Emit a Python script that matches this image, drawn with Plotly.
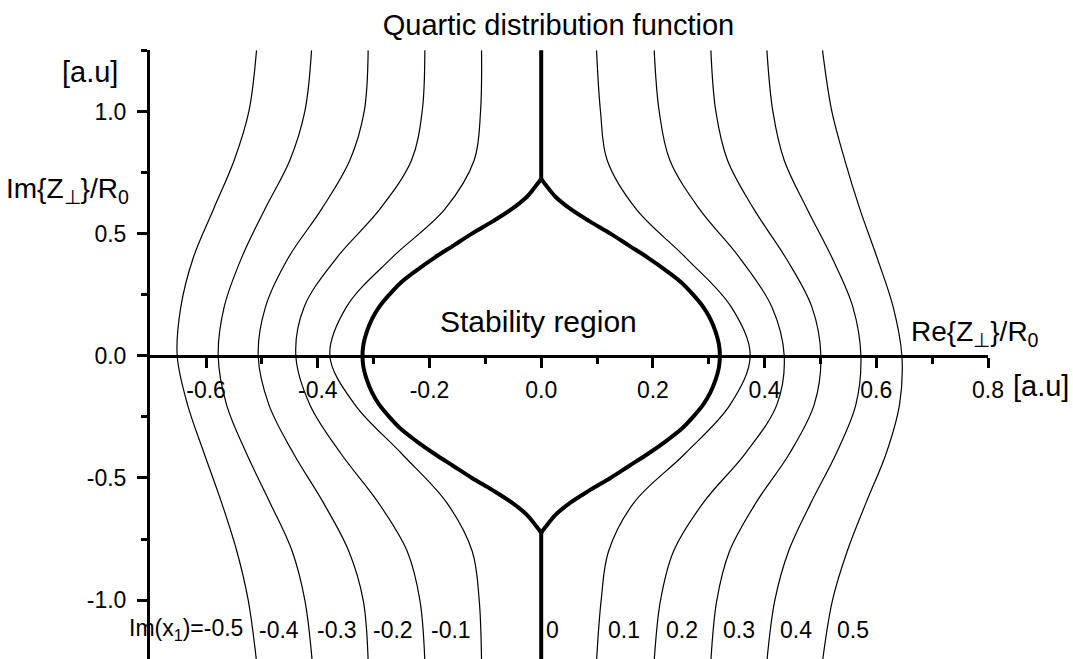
import plotly.graph_objects as go

# ---------------- data ----------------
# common y levels (Im{Z}/R0) at which each thin curve was read
y_levels = [1.25, 1.0, 0.8, 0.6, 0.4, 0.2, 0.0, -0.2, -0.4, -0.6, -0.8, -1.0, -1.25]

im_labels = ["-0.5", "-0.4", "-0.3", "-0.2", "-0.1", "0.1", "0.2", "0.3", "0.4", "0.5"]

x_m05 = [-0.5097, -0.5234, -0.5497, -0.5867, -0.6231, -0.6452, -0.6517, -0.6332, -0.6034, -0.5724, -0.5449, -0.5246, -0.5097]
x_m04 = [-0.4112, -0.4232, -0.4500, -0.4948, -0.5366, -0.5676, -0.5783, -0.5634, -0.5276, -0.4858, -0.4458, -0.4232, -0.4100]
x_m03 = [-0.3098, -0.3169, -0.3426, -0.3933, -0.4530, -0.4936, -0.5067, -0.4876, -0.4435, -0.3903, -0.3444, -0.3187, -0.3098]
x_m02 = [-0.2083, -0.2131, -0.2322, -0.2889, -0.3665, -0.4244, -0.4393, -0.4142, -0.3587, -0.2919, -0.2399, -0.2172, -0.2083]
x_m01 = [-0.1068, -0.1086, -0.1200, -0.1725, -0.2680, -0.3486, -0.3784, -0.3336, -0.2501, -0.1695, -0.1235, -0.1110, -0.1068]
x_p01 = [0.0991, 0.1062, 0.1182, 0.1701, 0.2596, 0.3402, 0.3742, 0.3384, 0.2578, 0.1665, 0.1206, 0.1074, 0.0991]
x_p02 = [0.2023, 0.2113, 0.2304, 0.2835, 0.3557, 0.4130, 0.4351, 0.4220, 0.3653, 0.2907, 0.2370, 0.2137, 0.2023]
x_p03 = [0.3038, 0.3127, 0.3336, 0.3808, 0.4381, 0.4846, 0.5008, 0.4888, 0.4446, 0.3850, 0.3372, 0.3145, 0.3038]
x_p04 = [0.4041, 0.4148, 0.4351, 0.4763, 0.5210, 0.5580, 0.5724, 0.5634, 0.5282, 0.4834, 0.4429, 0.4184, 0.4041]
x_p05 = [0.5037, 0.5204, 0.5437, 0.5706, 0.6016, 0.6302, 0.6458, 0.6416, 0.6177, 0.5819, 0.5479, 0.5216, 0.5037]

thin_curves = [x_m05, x_m04, x_m03, x_m02, x_m01, x_p01, x_p02, x_p03, x_p04, x_p05]

# Im(x1) = 0 : stability boundary (lens)
lens_y = [0.726, 0.715, 0.70, 0.65, 0.60, 0.55, 0.50, 0.45, 0.40, 0.35, 0.30, 0.25, 0.20, 0.15, 0.10, 0.05, 0.0,
          -0.05, -0.10, -0.15, -0.20, -0.25, -0.30, -0.35, -0.40, -0.45, -0.50, -0.55, -0.60, -0.65, -0.70, -0.715, -0.726]
lens_x_right = [0.0, 0.003, 0.008, 0.026, 0.053, 0.087, 0.124, 0.158, 0.192, 0.223, 0.251, 0.272, 0.290, 0.303, 0.312, 0.318, 0.320,
                0.318, 0.312, 0.303, 0.290, 0.272, 0.251, 0.223, 0.192, 0.158, 0.124, 0.087, 0.053, 0.026, 0.008, 0.003, 0.0]
lens_x_left = [-v for v in lens_x_right]
stem_top_y = [1.25, 0.726]
stem_bottom_y = [-0.726, -1.25]
stem_x = [0.0, 0.0]

x_tickvals = [-0.6, -0.4, -0.2, 0.0, 0.2, 0.4, 0.6, 0.8]
x_ticktext = ["-0.6", "-0.4", "-0.2", "0.0", "0.2", "0.4", "0.6", "0.8"]
x_minorvals = [-0.5, -0.3, -0.1, 0.1, 0.3, 0.5, 0.7]
y_tickvals = [-1.0, -0.5, 0.0, 0.5, 1.0]
y_ticktext = ["-1.0", "-0.5", "0.0", "0.5", "1.0"]
y_minorvals = [-0.75, -0.25, 0.25, 0.75, 1.25]

# ---------------- figure ----------------
FONT = "Liberation Sans, Arial, Helvetica, sans-serif"
W, H = 1073, 659
ML, MR, MT, MB = 148, 85, 50, 0
xmin, xmax = -0.704, 0.8
ymin, ymax = -1.241, 1.2515


def px_to_paper(px, py):
    return (px - ML) / (W - ML - MR), (H - MB - py) / (H - MT - MB)


fig = go.Figure()
for xs in thin_curves:
    fig.add_trace(go.Scatter(x=xs, y=y_levels, mode="lines",
                             line=dict(color="black", width=1.2, shape="spline", smoothing=1.0),
                             hoverinfo="skip"))

for xs, ys in [(stem_x, stem_top_y), (stem_x, stem_bottom_y)]:
    fig.add_trace(go.Scatter(x=xs, y=ys, mode="lines",
                             line=dict(color="black", width=4), hoverinfo="skip"))
for xs in [lens_x_right, lens_x_left]:
    fig.add_trace(go.Scatter(x=xs, y=lens_y, mode="lines",
                             line=dict(color="black", width=4, shape="spline", smoothing=1.0),
                             hoverinfo="skip"))

# curve labels near the bottom
label_y = -1.122
annotations = []
for lab, xs in zip(im_labels, thin_curves):
    xa = xs[11] + (xs[12] - xs[11]) * (1.122 - 1.0) / 0.25
    neg = lab.startswith("-")
    text = ("Im(x<sub>1</sub>)=" + lab) if lab == "-0.5" else lab
    annotations.append(dict(x=xa, y=label_y, xref="x", yref="y", text=text, showarrow=False,
                            xanchor="right" if neg else "left", yanchor="middle",
                            xshift=-7 if neg else 7, font=dict(size=23)))
annotations.append(dict(x=0.0, y=label_y, xref="x", yref="y", text="0", showarrow=False,
                        xanchor="left", yanchor="middle", xshift=3, font=dict(size=23)))

annotations.append(dict(x=0.0, y=0.14, xref="x", yref="y", text="Stability region", showarrow=False,
                        xanchor="center", yanchor="middle", xshift=-3, font=dict(size=30)))

px, py = px_to_paper(90, 72)
annotations.append(dict(x=px, y=py, xref="paper", yref="paper", text="[a.u]", showarrow=False,
                        xanchor="center", yanchor="middle", font=dict(size=29)))
px, py = px_to_paper(131, 190)
annotations.append(dict(x=px, y=py, xref="paper", yref="paper",
                        text="Im{Z<sub>⊥</sub>}/R<sub>0</sub>", showarrow=False,
                        xanchor="right", yanchor="middle", font=dict(size=28)))
px, py = px_to_paper(909, 333)
annotations.append(dict(x=px, y=py, xref="paper", yref="paper",
                        text="Re{Z<sub>⊥</sub>}/R<sub>0</sub>", showarrow=False,
                        xanchor="left", yanchor="middle", font=dict(size=28)))
px, py = px_to_paper(1011, 386)
annotations.append(dict(x=px, y=py, xref="paper", yref="paper", text="[a.u]", showarrow=False,
                        xanchor="left", yanchor="middle", font=dict(size=29)))

fig.update_layout(
    width=W, height=H,
    margin=dict(l=ML, r=MR, t=MT, b=MB),
    paper_bgcolor="white", plot_bgcolor="white",
    showlegend=False,
    font=dict(family=FONT, color="black"),
    title=dict(text="Quartic distribution function", xref="container", yref="container",
               x=558.5 / W, y=1 - 25 / H, xanchor="center", yanchor="middle",
               font=dict(size=29, family=FONT, color="black")),
    annotations=annotations,
    xaxis=dict(range=[xmin, xmax], anchor="free", position=(0 - ymin) / (ymax - ymin),
               showline=True, linecolor="black", linewidth=3, mirror=False,
               ticks="outside", ticklen=10, tickwidth=2.5, tickcolor="black",
               tickvals=x_tickvals, ticktext=x_ticktext, tickfont=dict(size=23),
               ticklabelstandoff=3,
               minor=dict(tickvals=x_minorvals, ticks="outside", ticklen=6, tickwidth=2.5, tickcolor="black"),
               showgrid=False, zeroline=False, fixedrange=True),
    yaxis=dict(range=[ymin, ymax], anchor="free", position=0,
               showline=True, linecolor="black", linewidth=3,
               ticks="outside", ticklen=10, tickwidth=2.5, tickcolor="black",
               tickvals=y_tickvals, ticktext=y_ticktext, tickfont=dict(size=23),
               ticklabelstandoff=6,
               minor=dict(tickvals=y_minorvals, ticks="outside", ticklen=6, tickwidth=2.5, tickcolor="black"),
               showgrid=False, zeroline=False, fixedrange=True),
)

fig.write_html("out.html")
